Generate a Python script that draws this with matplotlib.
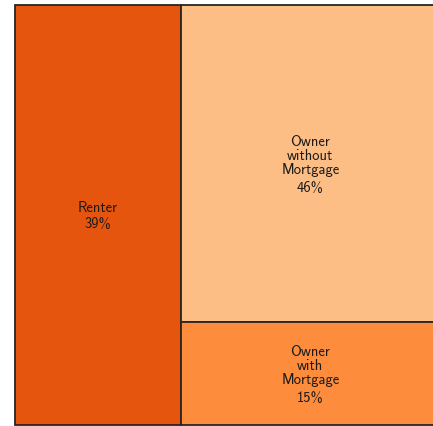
import matplotlib
matplotlib.use("Agg")
import matplotlib.pyplot as plt
from matplotlib.patches import Rectangle

# tenure shares (percent)
labels = ["Renter", "Owner\nwithout\nMortgage", "Owner\nwith\nMortgage"]
shares = [39, 46, 15]
colors = ["#e6550d", "#fdbe85", "#fd8d3c"]

fig = plt.figure(figsize=(4.33, 4.27), dpi=100)
# treemap runs a little past the right edge of the picture
ax = fig.add_axes([15 / 433, 1 / 427, 425 / 433, 420 / 427])
ax.set_xlim(0, 1)
ax.set_ylim(0, 1)
ax.axis("off")

total = sum(shares)
# first slice takes a full-height column, the rest are stacked on the right
left_w = shares[0] / total
rects = [(0, 0, left_w, 1)]
rest = sum(shares[1:])
y = 1.0
for s in shares[1:]:
    h = s / rest
    rects.append((left_w, y - h, 1 - left_w, h))
    y -= h

L = 10.5  # line pitch in points
for (x0, y0, w, h), lab, s, c in zip(rects, labels, shares, colors):
    ax.add_patch(Rectangle((x0, y0), w, h, facecolor=c, edgecolor="#2b2420",
                           linewidth=1.3, clip_on=False))
    cx, cy = x0 + w / 2, y0 + h / 2
    n = lab.count("\n") + 1
    gap = 0.8 + 1.2 * (n - 1)
    H = n * L + gap + L
    ax.annotate(lab, (cx, cy), xytext=(0, H / 2 - n * L), textcoords="offset points",
                ha="center", va="bottom", fontsize=10.5, family="cmss10",
                color="#1a1a1a", linespacing=1.0)
    ax.annotate(f"{s}%", (cx, cy), xytext=(0, -(H / 2 - L)), textcoords="offset points",
                ha="center", va="top", fontsize=10.5, family="cmss10",
                color="#1a1a1a")

fig.savefig("out.png", dpi=100)
